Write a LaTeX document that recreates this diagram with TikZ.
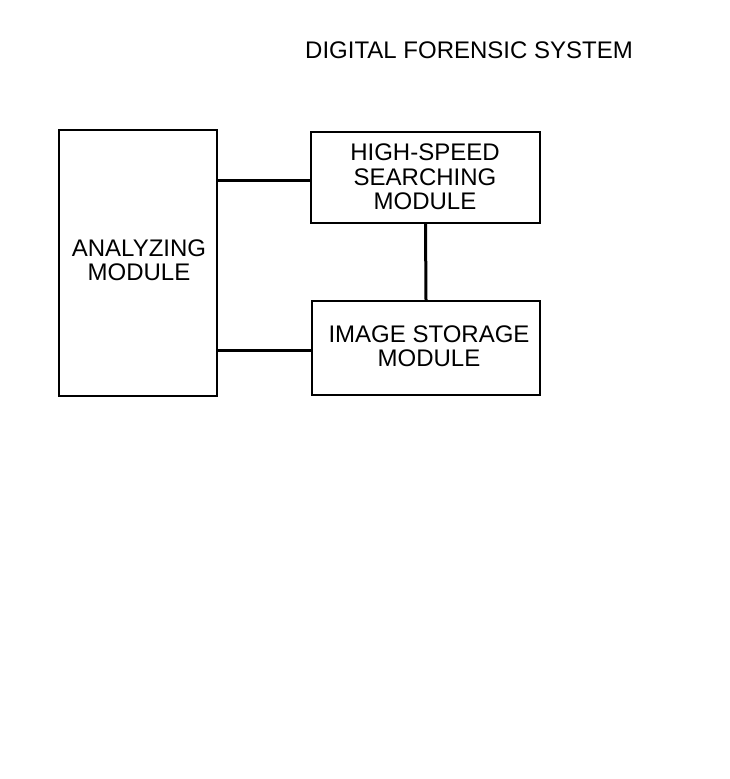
\documentclass[tikz,border=0pt]{standalone}
\usepackage{fontspec}
\setmainfont{Liberation Sans}
\begin{document}
\begin{tikzpicture}[x=1pt,y=-1pt,
  box/.style={draw,line width=2pt,inner sep=0pt},
  lbl/.style={font=\fontsize{24}{24.5}\selectfont,align=center,inner sep=0pt},
  link/.style={line width=3pt}]
\useasboundingbox[fill=white] (0,0) rectangle (730,779);
\node[lbl,anchor=center] (title) at (469,50) {DIGITAL FORENSIC SYSTEM};
\node[box,minimum width=158pt,minimum height=266pt] (ana) at (138,263) {};
\node[lbl] (anat) at (139,260) {ANALYZING\\MODULE};
\node[box,minimum width=229pt,minimum height=91pt] (hs) at (425.5,177.5) {};
\node[lbl] (hst) at (425,177) {HIGH-SPEED\\SEARCHING\\MODULE};
\node[box,minimum width=228pt,minimum height=94pt] (is) at (426,348) {};
\node[lbl] (ist) at (429,346) {IMAGE STORAGE\\MODULE};
\draw[link] (ana.east |- 0,180) -- (hs.west |- 0,180);
\draw[link] (ana.east |- 0,350) -- (is.west |- 0,350);
\draw[link] (hs.south) -- (is.north);
\end{tikzpicture}
\end{document}
